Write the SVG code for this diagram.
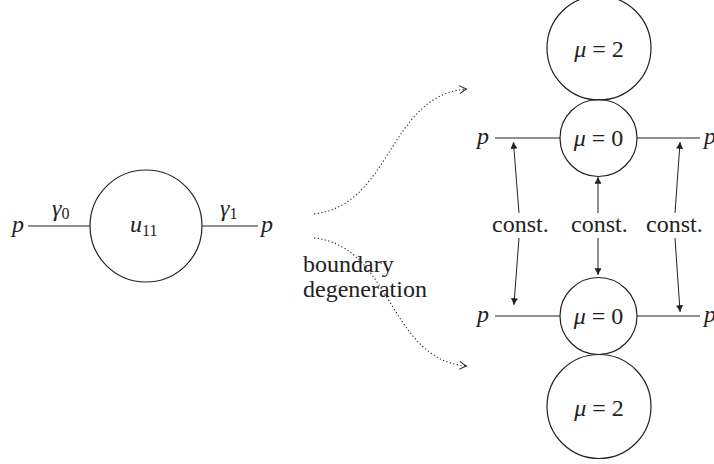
<svg xmlns="http://www.w3.org/2000/svg" width="714" height="464" viewBox="0 0 714 464">
<style>
  .c { fill: none; stroke: #222; stroke-width: 1.2; }
  .ln { fill: none; stroke: #222; stroke-width: 1.2; }
  .ar { fill: none; stroke: #222; stroke-width: 1; }
  .dot { fill: none; stroke: #222; stroke-width: 1.1; stroke-dasharray: 1.2 2.4; }
  .t { font-family: 'Liberation Serif', serif; font-size: 24px; fill: #222; }
  .m { font-family: 'Liberation Serif', serif; font-style: italic; font-size: 24px; fill: #222; }
  .s { font-family: 'Liberation Serif', serif; font-style: normal; font-size: 16px; fill: #222; }
</style>
<defs>
  <marker id="to" markerUnits="userSpaceOnUse" markerWidth="14" markerHeight="12" refX="0" refY="0" viewBox="-8 -6 10 12" orient="auto">
    <path d="M-6.5,-4 Q-2,-1 0.5,0 Q-2,1 -6.5,4" fill="none" stroke="#222" stroke-width="1"/>
  </marker>
  <marker id="tip" markerUnits="userSpaceOnUse" markerWidth="8" markerHeight="8" refX="0" refY="0" viewBox="-5 -3 6 6" orient="auto">
    <path d="M-4,-2.2 Q-1.5,-0.5 0.5,0 Q-1.5,0.5 -4,2.2 Z" fill="#222" stroke="#222" stroke-width="0.6"/>
  </marker>
</defs>

<g id="left-node">
  <line class="ln" x1="28" y1="226" x2="90" y2="226"/>
  <line class="ln" x1="202" y1="226" x2="258" y2="226"/>
  <circle class="c" cx="146" cy="226" r="56"/>
  <text class="m" style="font-family:'Liberation Serif',serif" x="12" y="232">p</text>
  <text class="m" style="font-family:'Liberation Serif',serif" x="261" y="232">p</text>
  <text class="m" style="font-family:'Liberation Serif',serif" x="52" y="216">γ<tspan class="s" dy="3">0</tspan></text>
  <text class="m" style="font-family:'Liberation Serif',serif" x="220" y="216">γ<tspan class="s" dy="3">1</tspan></text>
  <text class="m" style="font-family:'Liberation Serif',serif" x="130" y="232">u<tspan class="s" dy="4">11</tspan></text>
</g>

<g id="label">
  <text class="t" style="font-family:'Liberation Serif',serif" x="303" y="272">boundary</text>
  <text class="t" style="font-family:'Liberation Serif',serif" x="303" y="297">degeneration</text>
</g>

<g id="top-mu2">
  <circle class="c" cx="599" cy="48" r="52"/>
  <text class="t" style="font-family:'Liberation Serif',serif" x="599" y="57" text-anchor="middle"><tspan font-style="italic">μ</tspan> = 2</text>
</g>
<g id="top-mu0">
  <line class="ln" x1="495" y1="138" x2="560" y2="138"/>
  <line class="ln" x1="637" y1="138" x2="700" y2="138"/>
  <circle class="c" cx="598.5" cy="138" r="38.5"/>
  <text class="t" style="font-family:'Liberation Serif',serif" x="598.5" y="146" text-anchor="middle"><tspan font-style="italic">μ</tspan> = 0</text>
  <text class="m" style="font-family:'Liberation Serif',serif" x="477" y="144">p</text>
  <text class="m" style="font-family:'Liberation Serif',serif" x="704" y="144">p</text>
</g>

<g id="const-labels">
  <text class="t" style="font-family:'Liberation Serif',serif" x="492" y="232">const.</text>
  <text class="t" style="font-family:'Liberation Serif',serif" x="571" y="232">const.</text>
  <text class="t" style="font-family:'Liberation Serif',serif" x="646" y="232">const.</text>
</g>

<g id="bottom-mu0">
  <line class="ln" x1="495" y1="316" x2="560" y2="316"/>
  <line class="ln" x1="637" y1="316" x2="700" y2="316"/>
  <circle class="c" cx="598.5" cy="316" r="38.5"/>
  <text class="t" style="font-family:'Liberation Serif',serif" x="598.5" y="324" text-anchor="middle"><tspan font-style="italic">μ</tspan> = 0</text>
  <text class="m" style="font-family:'Liberation Serif',serif" x="477" y="322">p</text>
  <text class="m" style="font-family:'Liberation Serif',serif" x="704" y="322">p</text>
</g>
<g id="bottom-mu2">
  <circle class="c" cx="599" cy="406.5" r="52"/>
  <text class="t" style="font-family:'Liberation Serif',serif" x="599" y="416" text-anchor="middle"><tspan font-style="italic">μ</tspan> = 2</text>
</g>

<g id="connectors">
  <path class="dot" d="M314,214 C392,205 388,96 466,89" marker-end="url(#to)"/>
  <path class="dot" d="M314,238 C392,246 388,359 466,366" marker-end="url(#to)"/>
  <line class="ar" x1="519" y1="213" x2="513.5" y2="143" marker-end="url(#tip)"/>
  <line class="ar" x1="598" y1="213" x2="598" y2="178" marker-end="url(#tip)"/>
  <line class="ar" x1="675" y1="213" x2="680" y2="143" marker-end="url(#tip)"/>
  <line class="ar" x1="519" y1="238" x2="514" y2="304" marker-end="url(#tip)"/>
  <line class="ar" x1="598" y1="238" x2="598" y2="274" marker-end="url(#tip)"/>
  <line class="ar" x1="675" y1="238" x2="680" y2="311" marker-end="url(#tip)"/>
</g>
</svg>
